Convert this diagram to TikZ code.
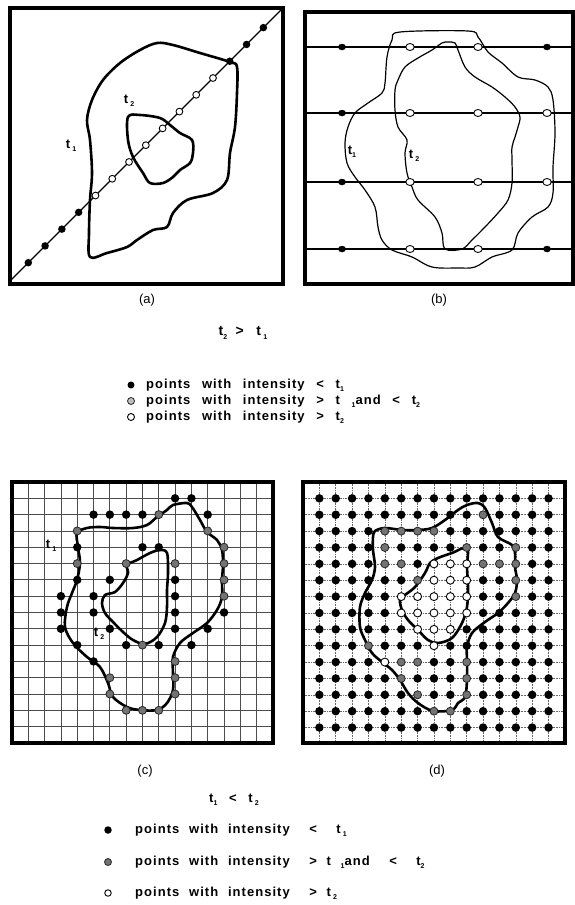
\documentclass[tikz,border=0pt]{standalone}
\usepackage{fontspec}
\setmainfont{Liberation Sans}
\usetikzlibrary{shapes.geometric}
\makeatletter
\newcommand\setcls[2]{\@for\q:=#2\do{\expandafter\xdef\csname dcls-\q\endcsname{#1}}}
\makeatother
\setcls{wht}{8-5,9-5,10-5,8-6,9-6,10-6,6-7,7-7,8-7,9-7,10-7,6-8,7-8,8-8,9-8,10-8,7-9,8-9,9-9,8-10,5-11}
\setcls{gry}{11-2,5-3,6-3,7-3,8-3,5-4,10-4,13-4,5-5,6-5,11-5,12-5,13-5,7-6,13-6,13-7,4-10,6-11,7-11,10-11,6-12,10-12,7-13,10-13,8-14,9-14}
\newcommand\lsub[1]{\raisebox{-0.45ex}{\scriptsize #1}}
\newcommand\ws{\hspace{0.6em}}
\newcommand\wsa{\hspace{0.9em}}
\newcommand\wsb{\hspace{0.75em}}
\tikzset{
  pframe/.style={line width=3.2pt},
  contour/.style={line width=2.6pt,line join=round},
  bcontour/.style={line width=1.2pt,line join=round},
  gridc/.style={line width=0.8pt,black!70},
  gridd/.style={line width=0.6pt,black!60,densely dotted},
  blk/.style={circle,fill=black,inner sep=0pt,minimum size=8.5pt},
  gry/.style={circle,fill=black!55,draw=black!85,line width=0.8pt,inner sep=0pt,minimum size=8pt},
  wht/.style={circle,fill=white,draw=black,line width=0.9pt,inner sep=0pt,minimum size=8pt},
  ablk/.style={circle,fill=black,inner sep=0pt,minimum size=7.5pt},
  awht/.style={circle,fill=white,draw=black,line width=0.9pt,inner sep=0pt,minimum size=6.8pt},
  bblk/.style={ellipse,fill=black,inner sep=0pt,minimum width=8pt,minimum height=6.5pt},
  bwht/.style={ellipse,fill=white,draw=black,line width=0.9pt,inner sep=0pt,minimum width=8.5pt,minimum height=7pt},
  lbl/.style={inner sep=0pt,font=\bfseries\fontsize{13}{14}\selectfont},
  captxt/.style={inner sep=0pt,font=\fontsize{13}{15}\selectfont},
  legA/.style={anchor=west,inner sep=0pt,font=\bfseries\fontsize{13}{14}\selectfont\addfontfeature{LetterSpace=8}},
  legB/.style={anchor=west,inner sep=0pt,font=\bfseries\fontsize{13}{14}\selectfont\addfontfeature{LetterSpace=8}},
}
\begin{document}
\begin{tikzpicture}[x=1pt,y=-1pt]
\useasboundingbox (0,0) rectangle (575,905);
\fill[white] (0,0) rectangle (575,905);

% ---------------- panel (a)
\draw[pframe] (10,8) rectangle (283,284);
\coordinate (aBL) at (10,281);
\coordinate (aTR) at (283,8);
\draw[line width=1.2pt] (aBL) -- (aTR);
\draw[contour] plot[smooth cycle,tension=0.55] coordinates {
 (90,257) (89,233) (90,200) (92,173) (90,140) (87,120) (92,100) (103,80) (120,63) (140,50)
 (157,43) (173,45) (200,53) (230,62) (237,67) (237,93) (235,127) (230,153) (227,180) (213,193)
 (187,200) (173,213) (167,227) (153,230) (137,240) (127,247) (107,253)};
\draw[contour] plot[smooth cycle,tension=0.55] coordinates {
 (128,117) (140,115) (160,118) (170,125) (180,133) (192,140) (193,153) (190,163) (180,170)
 (173,177) (163,183) (150,183) (143,173) (133,157) (128,140)};
\foreach \k in {0,...,14}{
  \pgfmathsetmacro\xx{28.3+16.79*\k}
  \ifnum\k<4 \def\st{ablk}\else\ifnum\k>11 \def\st{ablk}\else\def\st{awht}\fi\fi
  \node[\st] (a\k) at (\xx,{291-\xx}) {};
}
\node[lbl] (at2) at (129,101) {t\,\lsub{2}};
\node[lbl] (at1) at (71,146) {t\,\lsub{1}};

% ---------------- panel (b)
\draw[pframe] (305,12) rectangle (573,284);
\draw[bcontour] plot[smooth cycle,tension=0.55] coordinates {
 (400,32) (468,31) (478,37) (488,52) (502,63) (518,77) (535,80) (548,87) (553,100) (555,133)
 (553,167) (553,193) (548,207) (532,217) (518,233) (512,250) (492,257) (475,267) (458,268)
 (432,267) (412,257) (392,250) (382,240) (378,227) (375,207) (365,190) (355,177) (347,163)
 (345,143) (348,127) (355,113) (368,103) (382,93) (385,83) (387,57) (392,40)};
\draw[bcontour] plot[smooth cycle,tension=0.55] coordinates {
 (448,42) (455,43) (458,50) (465,67) (475,77) (492,87) (505,97) (515,107) (520,117) (518,127)
 (515,137) (512,147) (512,160) (512,183) (508,200) (498,213) (485,227) (472,240) (462,249)
 (445,249) (442,233) (435,217) (418,200) (412,187) (407,173) (405,153) (407,140) (398,127)
 (395,110) (395,90) (398,80) (405,67) (418,58) (432,50) (442,43)};
\foreach \r/\yy in {1/47,2/113,3/182,4/249}{
  \coordinate (bL\r) at (305,\yy);
  \coordinate (bR\r) at (573,\yy);
  \draw[line width=1.5pt] (bL\r) -- (bR\r);
}
\foreach \r/\yy/\lastst in {1/47/bblk,2/113/bwht,3/182/bwht,4/249/bblk}{
  \node[bblk] (b\r-1) at (342,\yy) {};
  \node[bwht] (b\r-2) at (410,\yy) {};
  \node[bwht] (b\r-3) at (478,\yy) {};
  \node[\lastst] (b\r-4) at (547,\yy) {};
}
\node[lbl] (bt1) at (352,152) {t\lsub{1}};
\node[lbl] (bt2) at (414,156) {t\,\lsub{2}};

% ---------------- captions / legend 1
\node[captxt] (capa) at (147,300) {(a)};
\node[captxt] (capb) at (439,300) {(b)};
\node[lbl,font=\bfseries\fontsize{14}{15}\selectfont] (ineq1) at (243,333) {t\lsub{2}\ws\textbf{>}\wsa t\,\lsub{1}};
\node[blk,minimum size=7pt] (l1a) at (131,385) {};
\node[gry,fill=black!25,minimum size=7pt] (l1b) at (131,401) {};
\node[wht,minimum size=7pt] (l1c) at (131,417) {};
\node[legA] (l1at) at (146,385) {points\wsa with\wsa intensity\wsa <\wsa t\lsub{1}};
\node[legA] (l1bt) at (146,401) {points\wsa with\wsa intensity\wsa >\wsa t\wsa\lsub{1}and\wsa <\wsa t\lsub{2}};
\node[legA] (l1ct) at (146,417) {points\wsa with\wsa intensity\wsa >\wsa t\lsub{2}};

% ---------------- panel (c)
\foreach \i in {1,...,15}{
  \draw[gridc] ({12+16.31*\i},482) -- ({12+16.31*\i},743);
  \draw[gridc] (12,{482+16.31*\i}) -- (273,{482+16.31*\i});
}
\draw[pframe] (12,482) rectangle (273,743);
\draw[contour] plot[smooth cycle,tension=0.55] coordinates {
 (173,505) (187,503) (192,507) (200,520) (207,532) (217,540) (222,550) (223,565) (222,580)
 (222,597) (217,610) (207,623) (193,633) (180,643) (173,657) (173,673) (173,690) (167,703)
 (157,710) (140,710) (127,707) (113,697) (108,683) (100,667) (87,657) (73,643) (65,627)
 (67,607) (72,593) (77,580) (80,563) (78,547) (77,533) (87,528) (100,527) (113,528) (133,528)
 (147,525) (157,517) (167,510)};
\draw[contour] plot[smooth cycle,tension=0.55] coordinates {
 (160,550) (167,553) (168,573) (167,590) (167,607) (165,623) (157,637) (145,644) (133,640)
 (123,632) (113,622) (105,613) (102,603) (105,595) (115,592) (123,583) (128,573) (127,565)
 (137,560) (150,553)};
\foreach \i/\j/\s in {10/1/blk,11/1/blk,
  5/2/blk,6/2/blk,7/2/blk,8/2/blk,9/2/gry,12/2/blk,
  4/3/gry,12/3/gry,
  4/4/blk,8/4/blk,9/4/blk,13/4/gry,
  4/5/gry,7/5/gry,10/5/gry,13/5/gry,
  4/6/blk,6/6/blk,10/6/blk,13/6/gry,
  3/7/blk,5/7/blk,10/7/blk,13/7/gry,
  3/8/blk,5/8/blk,10/8/blk,13/8/blk,
  3/9/blk,6/9/blk,10/9/blk,12/9/blk,
  4/10/blk,7/10/blk,8/10/gry,9/10/blk,11/10/blk,
  5/11/blk,10/11/gry,
  6/12/gry,10/12/gry,
  6/13/gry,10/13/gry,
  7/14/gry,8/14/gry,9/14/gry}{
  \node[\s] (c-\i-\j) at ({12+16.31*\i},{482+16.31*\j}) {};
}
\node[lbl] (ct1) at (51,546) {t\,\lsub{1}};
\node[lbl] (ct2) at (99,634) {t\,\lsub{2}};

% ---------------- panel (d)
\foreach \i in {1,...,15}{
  \draw[gridd] ({303+16.37*\i},482) -- ({303+16.37*\i},743);
  \draw[gridd] (303,{482+16.37*\i}) -- (565,{482+16.37*\i});
}
\draw[pframe] (303,482) rectangle (565,743);
\draw[contour] plot[smooth cycle,tension=0.55] coordinates {
 (467,505) (478,503) (485,508) (492,523) (498,537) (512,545) (515,553) (515,567) (517,580)
 (515,593) (508,603) (498,613) (485,622) (472,633) (467,647) (467,660) (467,680) (465,697)
 (458,703) (452,710) (433,711) (418,703) (408,693) (400,680) (392,670) (382,662) (372,653)
 (365,640) (360,627) (360,607) (365,593) (372,580) (375,567) (373,550) (373,537) (375,531)
 (385,528) (402,530) (418,530) (432,528) (445,520) (458,510)};
\draw[contour] plot[smooth cycle,tension=0.55] coordinates {
 (467,548) (467,567) (468,587) (467,607) (462,623) (452,638) (438,643) (428,640) (418,630)
 (408,620) (402,610) (400,600) (405,595) (415,587) (425,573) (430,563) (438,558) (452,553)};
\foreach \i in {1,...,15}{
  \foreach \j in {1,...,15}{
    \ifcsname dcls-\i-\j\endcsname \edef\st{\csname dcls-\i-\j\endcsname}\else\def\st{blk}\fi
    \node[\st] (d-\i-\j) at ({303+16.37*\i},{482+16.37*\j}) {};
  }
}

% ---------------- captions / legend 2
\node[captxt] (capc) at (145,771) {(c)};
\node[captxt] (capd) at (437,771) {(d)};
\node[lbl,font=\bfseries\fontsize{13}{14}\selectfont] (ineq2) at (234,800) {t\lsub{1}\wsa<\wsa t\,\lsub{2}};
\node[blk,minimum size=7.5pt] (l2a) at (108,830) {};
\node[gry,minimum size=7pt] (l2b) at (108,862) {};
\node[wht,minimum size=6.5pt] (l2c) at (108,893) {};
\node[legB] (l2at) at (135,830) {points\wsb with\wsb intensity\wsb\wsb <\wsb\wsb t\,\lsub{1}};
\node[legB] (l2bt) at (135,862) {points\wsb with\wsb intensity\wsb\wsb >\wsb t\wsb\lsub{1}and\wsb\wsb <\wsb\wsb t\lsub{2}};
\node[legB] (l2ct) at (135,893) {points\wsb with\wsb intensity\wsb\wsb >\wsb t\,\lsub{2}};
\end{tikzpicture}
\end{document}
